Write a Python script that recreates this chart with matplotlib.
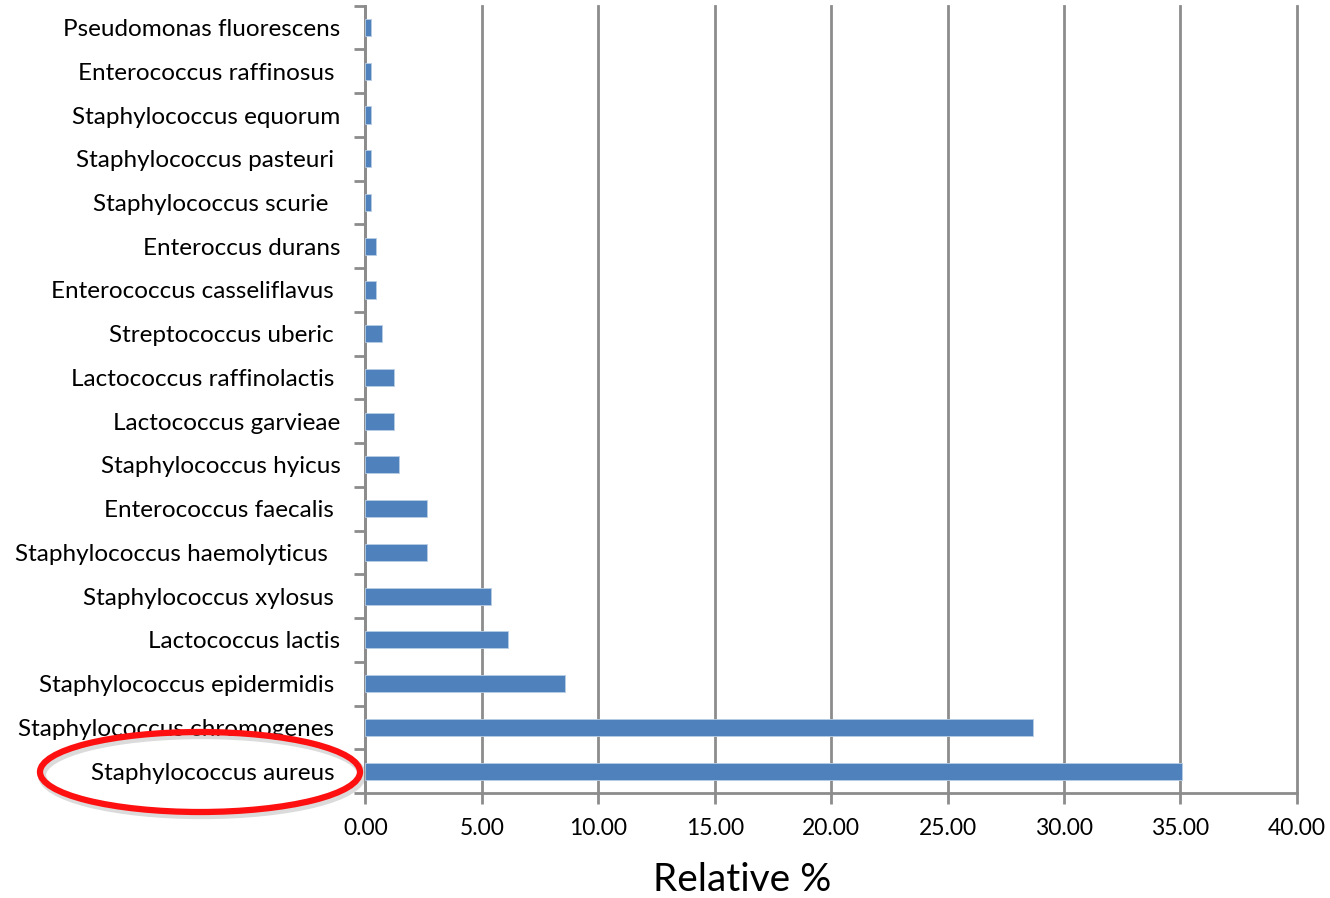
import matplotlib
matplotlib.use('Agg')
import matplotlib.pyplot as plt
from matplotlib.patches import Ellipse
import numpy as np

# species listed bottom to top, as drawn on the y axis
species = ['Staphylococcus aureus ', 'Staphylococcus chromogenes ', 'Staphylococcus epidermidis ',
           'Lactococcus lactis', 'Staphylococcus xylosus ', 'Staphylococcus haemolyticus  ',
           'Enterococcus faecalis ', 'Staphylococcus hyicus', 'Lactococcus garvieae',
           'Lactococcus raffinolactis ', 'Streptococcus uberic ', 'Enterococcus casseliflavus ',
           'Enteroccus durans', 'Staphylococcus scurie  ', 'Staphylococcus pasteuri ',
           'Staphylococcus equorum', 'Enterococcus raffinosus ', 'Pseudomonas fluorescens']
relative = [35.09, 28.69, 8.57, 6.11, 5.39, 2.66, 2.66, 1.45, 1.21, 1.21,
            0.71, 0.47, 0.47, 0.24, 0.24, 0.24, 0.24, 0.24]
xticks = [0, 5, 10, 15, 20, 25, 30, 35, 40]

plt.rcParams['font.family'] = ['Lato', 'DejaVu Sans']
grey = '#8c8c8c'

fig = plt.figure(figsize=(13.3, 8.98), dpi=100)
ax = fig.add_axes([0.2748, 0.1169, 0.7002, 0.8768])

pos = np.arange(len(species))
ax.barh(pos, relative, height=0.39, color='#4f81bd', edgecolor='#b9cde5', linewidth=0.6, zorder=3)

ax.set_xlim(0, 40)
ax.set_ylim(-0.5, len(species) - 0.5)
ax.set_xticks(xticks)
ax.set_xticklabels(['%.2f' % v for v in xticks], fontsize=16.5)
ax.set_yticks(pos)
ax.set_yticklabels(species, fontsize=17.5)
# ticks sit between the categories
ax.set_yticks(np.arange(len(species) + 1) - 0.5, minor=True)
ax.tick_params(axis='y', which='major', length=0, pad=18)
ax.tick_params(axis='y', which='minor', length=8, width=2, color=grey)
ax.tick_params(axis='x', length=8, width=2, color=grey, pad=10)

ax.grid(axis='x', color=grey, linewidth=2, zorder=0)
for gl in ax.get_xgridlines():
    gl.set_clip_on(False)
for side in ['top', 'right']:
    ax.spines[side].set_visible(False)
for side in ['left', 'bottom']:
    ax.spines[side].set_color(grey)
    ax.spines[side].set_linewidth(2)

fig.text(742 / 1330, 1 - 880 / 898, 'Relative %', fontsize=28, ha='center', va='center')

# highlight ring round the top species, with a soft shadow under it
cx, cy = 200 / 1330, 1 - 772 / 898
w, h = 320 / 1330, 80 / 898
shadow = Ellipse((cx + 2 / 1330, cy - 3 / 898), w, h, transform=fig.transFigure,
                 fill=False, edgecolor='#999999', alpha=0.35, linewidth=6, zorder=9)
ring = Ellipse((cx, cy), w, h, transform=fig.transFigure,
               fill=False, edgecolor='#ff1010', linewidth=4.5, zorder=10)
fig.add_artist(shadow)
fig.add_artist(ring)

fig.savefig('out.png', dpi=100)
